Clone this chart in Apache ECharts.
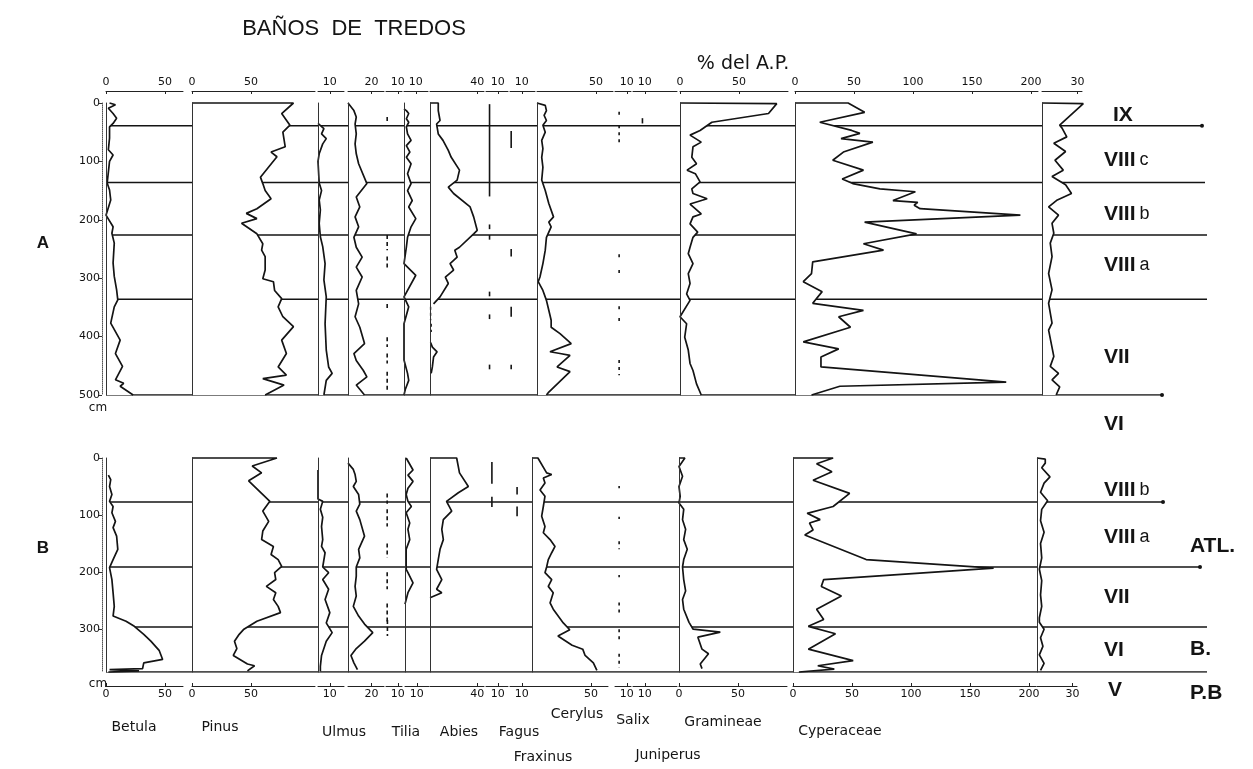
<!DOCTYPE html>
<html><head><meta charset="utf-8">
<script src="https://cdn.jsdelivr.net/npm/echarts@6/dist/echarts.min.js"></script>
<style>html,body{margin:0;padding:0;background:#fff}#c{width:1253px;height:769px}</style>
</head><body><div id="c"></div>
<script>
// ===== DATA : curves are [depth cm, percent] =====
// Panel A (0-500 cm)
const betulaA = [[0,3],[3,8],[9,2],[18,6],[26,9],[35,6],[41,3],[60,3],[80,2],[89,6],[100,3],[137,1],[149,3],[166,4],[192,0],[212,6],[223,5],[240,7],[274,6],[297,7],[320,9],[337,10],[349,7],[377,4],[406,12],[429,8],[451,14],[474,8],[480,15],[485,12],[500,23]];
const pinusA = [[0,0],[0,86],[18,76],[38,83],[50,77],[75,79],[84,67],[92,72],[107,66],[127,58],[138,60],[150,62],[164,67],[181,55],[189,46],[198,55],[206,42],[224,55],[241,60],[252,59],[263,62],[286,62],[301,60],[306,69],[321,70],[335,76],[349,73],[366,77],[383,86],[406,76],[429,80],[452,73],[466,80],[472,60],[483,78],[500,62]];
const ulmusA = [[35,0],[44,5],[53,3],[61,7],[70,4],[87,1],[100,0],[137,1],[150,3],[166,1],[183,2],[206,1],[229,2],[246,4],[275,6],[303,5],[332,7],[378,6],[423,7],[452,9],[463,12],[475,7],[500,5]];
const col20A = [[0,0],[13,5],[24,7],[36,6],[53,7],[70,6],[87,7],[104,9],[138,16],[161,7],[178,10],[195,6],[212,9],[230,5],[247,7],[264,12],[281,7],[298,12],[321,7],[344,9],[366,6],[384,10],[412,14],[429,5],[441,7],[458,13],[469,16],[483,7],[500,14]];
const tiliaA = [[10,0],[13,2],[18,4],[27,2],[33,4],[41,2],[53,3],[64,6],[73,2],[84,5],[93,2],[104,6],[121,3],[138,6],[150,3],[167,7],[178,4],[198,10],[212,6],[230,3],[247,2],[275,0],[295,10],[332,0],[349,4],[378,0],[440,0],[463,3],[475,4],[491,1],[500,0]];
const abiesA = [[0,0],[0,7],[13,7],[30,8.5],[36,5.6],[53,7],[64,11],[81,15.5],[93,18],[115,25],[132,23],[144,15.5],[155,20],[178,34],[195,37],[218,40],[224,37],[247,25],[252,21],[264,23],[275,17],[286,20],[298,13],[309,15.5],[332,8.5],[344,3]];
const abiesA2 = [[410,0.5],[418,2],[426,6],[435,3],[452,2],[463,1]];
const corylusA = [[0,0],[1,1],[4,7],[13,8],[21,6],[30,8],[38,5],[50,7],[64,4],[78,5],[93,4],[110,5],[132,4],[150,7],[172,10],[195,14],[204,10],[212,12],[230,8],[252,7],[275,5],[298,2.5],[306,1],[321,5],[338,8],[355,10],[372,12],[384,12],[395,19.5],[412,29],[426,11],[429,19.5],[432,28],[452,17],[460,28],[495,10],[500,8]];
const gramineaeA = [[0,0],[1,82],[18,75],[33,27],[47,17],[55,8.5],[67,18],[75,11],[93,10],[104,14],[115,6],[121,13],[135,17],[147,10],[155,11],[164,23],[173,8.5],[190,18],[195,11],[207,8.5],[221,15],[230,11],[247,8.5],[258,7],[275,11],[292,7],[309,8.5],[327,5.6],[338,8.5],[366,0],[378,5.6],[401,4],[423,7],[446,8.5],[458,11],[481,14],[500,18]];
const cyperaceaeA = [[0,0],[0,45],[16,59],[33,21],[47,48],[52,55],[61,39],[67,66],[84,41],[98,32],[115,58],[130,40],[138,49],[147,72],[152,102],[167,83],[170,104],[175,101],[181,106],[192,191],[204,59],[224,103],[241,58],[252,75],[272,15],[292,14],[306,7],[323,23],[343,15],[355,58],[366,37],[384,47],[409,7],[421,37],[435,22],[452,22],[478,179],[485,38],[500,14]];
const lastA = [[0,0],[1,35],[38,15],[43,17],[58,21],[69,10],[83,20],[98,11],[115,18],[126,8.5],[140,20],[155,25],[166,13],[178,5.6],[192,14],[206,8.5],[223,10],[240,7],[263,8.5],[292,5.6],[320,8.5],[343,5.6],[377,8.5],[389,5.6],[434,10],[451,7],[463,14],[474,8.5],[486,15],[500,12]];
// presence marks: [depth from, depth to, percent]
const tiliaDashA = [[24,33,1],[226,252,1],[263,286,1],[344,355,1],[401,418,1],[429,446,1],[460,492,1]];
const abiesDashA = [[349,372,0.5],[378,392,1]];
const fagusA = [[2,160,3],[208,216,3],[226,234,3],[323,331,3],[362,370,3],[448,456,3]];
const fraxinusA = [[48,77,1],[250,263,1],[349,366,1],[448,456,1]];
const salixA = [[15,26,3.5],[38,70,3.5],[259,267,3.5],[286,294,3.5],[348,356,3.5],[368,376,3.5],[440,466,3.5]];
const juniperusA = [[26,35,8]];

// Panel B (0-375 cm)
const betulaB = [[30,2],[38,4],[50,3],[64,5],[76,3],[85,6],[96,5],[111,8],[122,6],[137,9],[160,10],[178,6],[192,3],[213,5],[236,6],[260,7],[277,6],[286,17],[295,24],[309,32],[321,38],[337,45],[353,48],[359,32],[369,31],[371,3],[373,28],[375,2]];
const pinusB = [[0,0],[0,72],[14,51],[26,59],[40,48],[76,66],[93,60],[111,65],[128,60],[143,59],[155,69],[169,67],[178,73],[190,76],[201,70],[213,71],[225,63],[236,71],[248,69],[260,73],[271,75],[286,55],[300,44],[309,40],[321,36],[334,38],[346,35],[361,47],[364,53],[373,47]];
const ulmusB = [[21,0],[72,0],[76,4],[90,2],[104,4],[120,3],[143,4],[155,3],[166,6],[191,4],[201,9],[213,4],[230,9],[248,6],[271,10],[289,7],[306,12],[309,13],[321,7],[346,3],[365,2],[374,2]];
const col20B = [[9,0],[20,4.5],[29,6],[41,7],[50,4.5],[64,9],[81,10],[93,7],[108,10],[137,14],[160,9],[175,10],[191,7],[207,7],[225,6],[242,7],[260,4.5],[277,9],[291,14],[306,21],[321,14],[334,7],[346,2.5],[359,5],[371,8]];
const tiliaB = [[0,1],[21,6.8],[30,2.5],[41,6.8],[53,2.5],[64,1],[76,2.5],[85,5.4],[96,1],[114,4],[125,2.5],[143,4],[160,1],[178,1],[195,1],[201,2.5],[219,6.8],[236,2.5],[256,0]];
const abiesB = [[0,0],[0,22.6],[15,24],[26,25],[50,32.5],[61,24],[76,14],[93,18.4],[108,11.3],[125,10],[143,11.3],[160,8.5],[178,7],[195,5.6],[213,10],[230,5.6],[236,10],[245,0]];
const corylusB = [[0,0],[0,5],[26,12.4],[29,16.7],[35,9.6],[44,11],[56,6.8],[67,11],[85,9.6],[102,8.2],[120,11],[131,9.6],[143,15.3],[155,19.5],[166,16.7],[178,13.8],[191,12.4],[201,11],[213,16.7],[225,13.8],[236,18],[254,15.3],[265,18],[289,26.5],[301,32],[312,22],[328,34],[335,43],[346,45],[359,52],[372,55]];
const gramineaeB = [[0,0],[0,5],[15,0],[32,3],[50,0],[67,1],[79,0],[90,4],[108,3],[125,5.6],[143,4],[160,7],[178,4],[191,3],[213,4],[233,5.6],[248,3],[265,4],[288,8.5],[300,12],[305,35],[314,16],[335,19.5],[343,25],[361,18],[369,19.5]];
const cyperaceaeB = [[0,0],[0,34],[10,20],[24,33],[39,17],[62,48],[85,34],[97,12],[108,23],[114,14],[126,17],[135,10],[178,62],[193,170],[213,26],[225,24],[242,41],[265,20],[283,26],[295,13],[308,36],[335,13],[355,51],[364,21],[370,35],[375,5]];
const lastB = [[0,0],[2,7],[9,7],[17,4],[33,11],[44,6],[60,3],[75,9],[90,4],[110,3],[130,6],[150,3],[175,4],[195,2],[215,4],[240,3],[260,4],[280,2],[288,2],[300,6],[315,3],[330,5],[345,2],[360,6],[372,3]];
const tiliaDashB = [[62,80,1],[90,120,1],[150,175,1],[200,230,1],[255,290,1],[284,312,1.2]];
const fagusB = [[7,45,5],[68,86,5]];
const fraxinusB = [[51,64,6],[85,102,6]];
const salixB = [[49,53,3.5],[103,107,3.5],[146,160,3.5],[205,209,3.5],[253,274,3.5],[300,321,3.5],[343,368,3.5]];
const juniperusB = [];

// zone boundaries (cm)
const zonesA = [39, 136, 226, 336, 500];
const zonesB = [77, 191, 296, 375];
// axis tick labels
const ticksBetula = [0,50], ticksPinus = [0,50], ticksUlmus = [10], ticks20 = [20], ticksTilia = [10],
      ticksAbies = [40], ticksFagus = [10], ticksCorylus = [50], ticksSalix = [10],
      ticksGramineae = [0,50], ticksCyperaceae = [0,50,100,150,200], ticksLast = [30];
const depthTicksA = [0,100,200,300,400,500];
const depthTicksB = [0,100,200,300];

// ===== LAYOUT =====
const K = 1.18; // px per percent
const PANEL = {A:{top:103,height:292,maxDepth:500,depthTicks:depthTicksA},
               B:{top:458,height:214,maxDepth:375,depthTicks:depthTicksB}};
const COLS = [
 {key:'betula', leftA:106, leftB:106, width:77, ticks:ticksBetula, kind:'curve', base:true, depth:true},
 {key:'pinus', leftA:192, leftB:192, width:123, ticks:ticksPinus, kind:'curve', base:true},
 {key:'ulmus', leftA:318, leftB:318, width:26, ticks:ticksUlmus, kind:'curve', base:true},
 {key:'col20', leftA:348, leftB:348, width:36, ticks:ticks20, kind:'curve', base:true},
 {key:'tiliaDash', leftA:386, leftB:386, width:16, ticks:ticksTilia, kind:'dash', dash:[4,3]},
 {key:'tilia', leftA:404, leftB:405, width:24, ticks:ticksTilia, kind:'curve', base:true},
 {key:'abies', leftA:430, leftB:430, width:54, ticks:ticksAbies, kind:'curve', base:true},
 {key:'fagus', leftA:486, leftB:486, width:22, ticks:ticksFagus, kind:'dash', dash:null},
 {key:'fraxinus', leftA:510, leftB:510, width:25, ticks:ticksFagus, kind:'dash', dash:null},
 {key:'corylus', leftA:537, leftB:532, width:76, ticks:ticksCorylus, kind:'curve', base:true},
 {key:'salix', leftA:615, leftB:615, width:16, ticks:ticksSalix, kind:'dash', dash:[3,4]},
 {key:'juniperus', leftA:633, leftB:633, width:44, ticks:ticksSalix, kind:'dash', dash:null},
 {key:'gramineae', leftA:680, leftB:679, width:108, ticks:ticksGramineae, kind:'curve', base:true},
 {key:'cyperaceae', leftA:795, leftB:793, width:243, ticks:ticksCyperaceae, kind:'curve', base:true},
 {key:'last', leftA:1042, leftB:1037, width:40, ticks:ticksLast, kind:'curve', base:true}
];
const DATA = {
 A:{betula:[betulaA], pinus:[pinusA], ulmus:[ulmusA], col20:[col20A], tiliaDash:tiliaDashA, tilia:[tiliaA],
    abies:[abiesA, abiesA2], fagus:fagusA, fraxinus:fraxinusA, corylus:[corylusA], salix:salixA, juniperus:juniperusA,
    gramineae:[gramineaeA], cyperaceae:[cyperaceaeA], last:[lastA]},
 B:{betula:[betulaB], pinus:[pinusB], ulmus:[ulmusB], col20:[col20B], tiliaDash:tiliaDashB, tilia:[tiliaB],
    abies:[abiesB], fagus:fagusB, fraxinus:fraxinusB, corylus:[corylusB], salix:salixB, juniperus:juniperusB,
    gramineae:[gramineaeB], cyperaceae:[cyperaceaeB], last:[lastB]}
};
const EXTRA_DASH = {A:{abies:abiesDashA}, B:{}};
const ZONES = {A:zonesA, B:zonesB};
const ZONE_X = {A:[[106,1202,true],[106,1205,false],[106,1207,false],[106,1207,false],[106,1162,true]],
                B:[[106,1163,true],[106,1200,true],[106,1207,false],[106,1207,false]]};
const INK = '#141414';
const FONT = '"DejaVu Sans", sans-serif';

const grids=[], xAxes=[], yAxes=[], series=[];

function fillRender(pts){
  return function(params, api){
    if (params.dataIndex !== 0) return null;
    const poly = [api.coord([0, pts[0][1]])];
    pts.forEach(p => poly.push(api.coord(p)));
    poly.push(api.coord([0, pts[pts.length-1][1]]));
    return {type:'polygon', shape:{points:poly}, style:{fill:'#ffffff', stroke:null}, silent:true};
  };
}
function dashRender(dashStyle, width){
  return function(params, api){
    const a = api.coord([api.value(0), api.value(1)]);
    const b = api.coord([api.value(0), api.value(2)]);
    return {type:'line', shape:{x1:a[0], y1:a[1], x2:b[0], y2:b[1]},
      style:{stroke:INK, lineWidth:width, lineDash:dashStyle||null}, silent:true};
  };
}
function addDash(gi, yi, segs, dashStyle, width){
  if (!segs || !segs.length) return;
  series.push({type:'custom', xAxisIndex:gi, yAxisIndex:yi, z:3, silent:true, clip:false,
    encode:{x:0, y:[1,2]},
    data: segs.map(s => [s[2], s[0], s[1]]),
    renderItem: dashRender(dashStyle, width)});
}

['A','B'].forEach(p => {
  const P = PANEL[p];
  // zone-line overlay grid
  const gz = grids.length;
  grids.push({left:0, top:P.top, width:1253, height:P.height});
  xAxes.push({gridIndex:gz, type:'value', min:0, max:1253, show:false});
  const yz = yAxes.length;
  yAxes.push({gridIndex:gz, type:'value', inverse:true, min:0, max:P.maxDepth, show:false});
  ZONES[p].forEach((d, i) => {
    const ext = ZONE_X[p][i];
    series.push({type:'line', xAxisIndex:gz, yAxisIndex:yz, z:1, silent:true, animation:false,
      showSymbol:true, symbol:'none',
      data:[[ext[0], d], ext[2] ? {value:[ext[1], d], symbol:'circle', symbolSize:4} : [ext[1], d]],
      itemStyle:{color:INK}, lineStyle:{color:INK, width:1.5}});
  });

  COLS.forEach(c => {
    const gi = grids.length;
    const left = p==='A' ? c.leftA : c.leftB;
    grids.push({left:left, top:P.top, width:c.width, height:P.height});
    xAxes.push({gridIndex:gi, type:'value', min:0, max:c.width/K,
      position: p==='A' ? 'top' : 'bottom', offset: p==='A' ? 12 : 14,
      axisLine:{show:true, onZero:false, lineStyle:{color:'#222', width:1}},
      axisTick:{show:true, inside:true, length:3, customValues:c.ticks, lineStyle:{color:'#222'}},
      axisLabel:{show:true, customValues:c.ticks, fontSize:11, color:'#111', margin:3, fontFamily:FONT},
      splitLine:{show:false}});
    if (c.depth) {
      yAxes.push({gridIndex:gi, type:'value', inverse:true, min:0, max:P.maxDepth,
        position:'left', offset:4, z:5,
        axisLine:{show:true, onZero:false, lineStyle:{color:'#555', width:1, type:'dotted'}},
        axisTick:{show:true, length:3, customValues:P.depthTicks, lineStyle:{color:'#333'}},
        axisLabel:{show:true, customValues:P.depthTicks, fontSize:11, color:'#111', margin:2, fontFamily:FONT},
        splitLine:{show:false}});
    }
    const yi = yAxes.length;
    yAxes.push({gridIndex:gi, type:'value', inverse:true, min:0, max:P.maxDepth, position:'left', offset:0, z:5,
      axisLine:{show:!!c.base, onZero:false, lineStyle:{color:'#333', width:1}},
      axisTick:{show:false}, axisLabel:{show:false}, splitLine:{show:false}});

    const d = DATA[p][c.key];
    if (c.kind === 'curve') {
      d.forEach(seg => {
        const pts = seg.map(r => [r[1], r[0]]);
        series.push({type:'custom', xAxisIndex:gi, yAxisIndex:yi, z:2, silent:true, clip:false,
          encode:{x:0, y:1}, data:pts, renderItem:fillRender(pts)});
        series.push({type:'line', xAxisIndex:gi, yAxisIndex:yi, z:3, silent:true, animation:false,
          showSymbol:false, symbol:'none', clip:false, data:pts,
          lineStyle:{color:INK, width:1.7}});
      });
      if (EXTRA_DASH[p][c.key]) addDash(gi, yi, EXTRA_DASH[p][c.key], [3,3], 1.4);
    } else {
      addDash(gi, yi, d, c.dash, 1.6);
    }
  });
});

// ===== TEXT =====
const T = (text, x, y, font, align) => ({type:'text', x:x, y:y, z:10, silent:true,
  style:{text:text, font:font, fill:INK, textAlign:align||'center', textVerticalAlign:'middle',
         align:align||'center', verticalAlign:'middle'}});
const ROMAN = 'bold 21px "Liberation Sans", sans-serif';
const R = (main, sub, x, y) => ({type:'text', x:x, y:y, z:10, silent:true,
  style:{text: sub ? '{m|'+main+'}{s|'+sub+'}' : '{m|'+main+'}', fill:INK,
    textAlign:'left', textVerticalAlign:'middle', align:'left', verticalAlign:'middle',
    rich:{m:{font:ROMAN, fill:INK}, s:{font:'18px "Liberation Sans", sans-serif', fill:INK, padding:[0,0,0,4]}}}});
const LBL = '14px ' + FONT;
const graphics = [
  T('BAÑOS  DE  TREDOS', 354, 29, '22px "Liberation Sans", sans-serif'),
  T('% del A.P.', 743, 64, '19px ' + FONT),
  T('A', 43, 243, 'bold 17px "Liberation Sans", sans-serif'),
  T('B', 43, 548, 'bold 17px "Liberation Sans", sans-serif'),
  T('cm', 98, 408, '12px ' + FONT),
  T('cm', 98, 684, '12px ' + FONT),
  T('Betula', 134, 727, LBL), T('Pinus', 220, 727, LBL), T('Ulmus', 344, 732, LBL),
  T('Tilia', 406, 732, LBL), T('Abies', 459, 732, LBL), T('Fagus', 519, 732, LBL),
  T('Fraxinus', 543, 757, LBL), T('Cerylus', 577, 714, LBL), T('Salix', 633, 720, LBL),
  T('Juniperus', 668, 755, LBL), T('Gramineae', 723, 722, LBL), T('Cyperaceae', 840, 731, LBL),
  R('IX', '', 1113, 115), R('VIII', 'c', 1104, 160), R('VIII', 'b', 1104, 214), R('VIII', 'a', 1104, 265),
  R('VII', '', 1104, 357), R('VI', '', 1104, 424),
  R('VIII', 'b', 1104, 490), R('VIII', 'a', 1104, 537), R('VII', '', 1104, 597), R('VI', '', 1104, 650),
  R('V', '', 1108, 690),
  T('ATL.', 1190, 546, ROMAN, 'left'), T('B.', 1190, 649, ROMAN, 'left'), T('P.B', 1190, 693, ROMAN, 'left')
];

const chart = echarts.init(document.getElementById('c'), null, {renderer:'canvas'});
chart.setOption({
  animation:false, backgroundColor:'#ffffff',
  grid:grids, xAxis:xAxes, yAxis:yAxes, series:series, graphic:{elements:graphics}
});
</script></body></html>
